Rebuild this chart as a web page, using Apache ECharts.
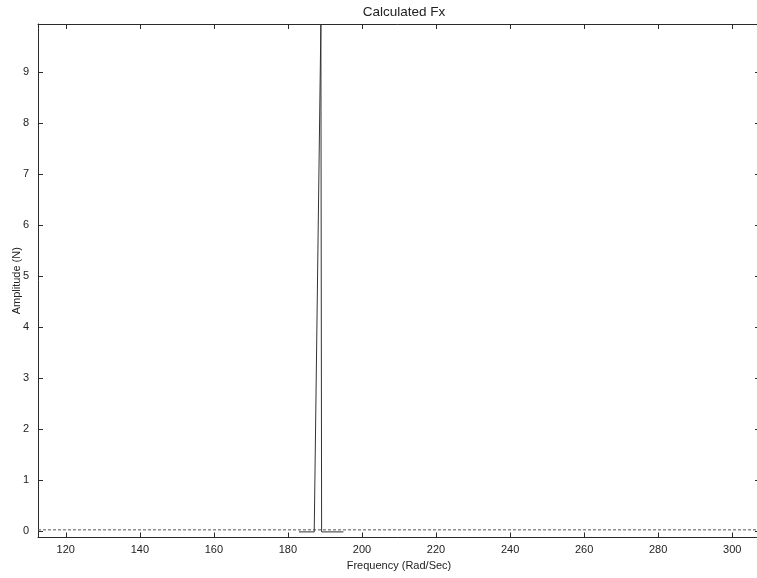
<!DOCTYPE html>
<html>
<head>
<meta charset="utf-8">
<script src="https://cdn.jsdelivr.net/npm/echarts@6/dist/echarts.min.js"></script>
<style>html,body{margin:0;padding:0;background:#fff}#c{width:757px;height:578px}</style>
</head>
<body>
<div id="c"></div>
<script>
// Data
var xTicks = [120, 140, 160, 180, 200, 220, 240, 260, 280, 300];
var yTicks = [0, 1, 2, 3, 4, 5, 6, 7, 8, 9];
var baselineX = [112.5, 307.5];
var baselineY = [0.02, 0.02];
var spikeX = [183, 187.1, 188.9, 189.1, 195];
var spikeY = [-0.02, -0.02, 9.95, -0.02, -0.02];

var FONT = 'Liberation Sans, Arial, Helvetica, sans-serif';
var AX = '#2a2a2a';

function zip(a, b) { return a.map(function (v, i) { return [v, b[i]]; }); }

var chart = echarts.init(document.getElementById('c'), null, { renderer: 'canvas' });
chart.setOption({
  animation: false,
  backgroundColor: '#ffffff',
  title: {
    text: 'Calculated Fx', left: 399, top: 0, textAlign: 'center',
    textStyle: { fontFamily: FONT, fontSize: 13.5, fontWeight: 'normal', color: '#222' }
  },
  grid: { left: 38, right: -3, top: 24, bottom: 40.5, containLabel: false, outerBoundsMode: 'none' },
  xAxis: [{
    type: 'value', min: 112.5, max: 307.5, position: 'bottom',
    name: 'Frequency (Rad/Sec)', nameLocation: 'middle', nameGap: 23, nameMoveOverlap: false,
    nameTextStyle: { fontFamily: FONT, fontSize: 11, color: '#222' },
    axisLine: { show: true, onZero: false, lineStyle: { color: AX, width: 1 } },
    axisTick: { show: true, inside: true, length: 5, customValues: xTicks, lineStyle: { color: AX } },
    axisLabel: { show: true, customValues: xTicks, margin: 7, fontFamily: FONT, fontSize: 11, color: '#222' },
    splitLine: { show: false }
  }, {
    type: 'value', min: 112.5, max: 307.5, position: 'top',
    axisLine: { show: true, onZero: false, lineStyle: { color: AX, width: 1 } },
    axisTick: { show: true, inside: true, length: 5, customValues: xTicks, lineStyle: { color: AX } },
    axisLabel: { show: false },
    splitLine: { show: false }
  }],
  yAxis: [{
    type: 'value', min: -0.13, max: 9.95, position: 'left',
    name: 'Amplitude (N)', nameLocation: 'middle', nameGap: 16, nameRotate: 90, nameMoveOverlap: false,
    nameTextStyle: { fontFamily: FONT, fontSize: 11, color: '#222' },
    axisLine: { show: true, onZero: false, lineStyle: { color: AX, width: 1 } },
    axisTick: { show: true, inside: true, length: 5, customValues: yTicks, lineStyle: { color: AX } },
    axisLabel: { show: true, customValues: yTicks, margin: 9, fontFamily: FONT, fontSize: 11, color: '#222' },
    splitLine: { show: false }
  }, {
    type: 'value', min: -0.13, max: 9.95, position: 'right',
    axisLine: { show: true, onZero: false, lineStyle: { color: AX, width: 1 } },
    axisTick: { show: true, inside: true, length: 5, customValues: yTicks, lineStyle: { color: AX } },
    axisLabel: { show: false },
    splitLine: { show: false }
  }],
  series: [{
    type: 'line', xAxisIndex: 0, yAxisIndex: 0,
    data: zip(baselineX, baselineY), showSymbol: false, symbol: 'none',
    lineStyle: { color: '#555', width: 1, type: [3, 2] }
  }, {
    type: 'line', xAxisIndex: 0, yAxisIndex: 0,
    data: zip(spikeX, spikeY), showSymbol: false, symbol: 'none',
    lineStyle: { color: '#333', width: 1 }
  }]
});
</script>
</body>
</html>
